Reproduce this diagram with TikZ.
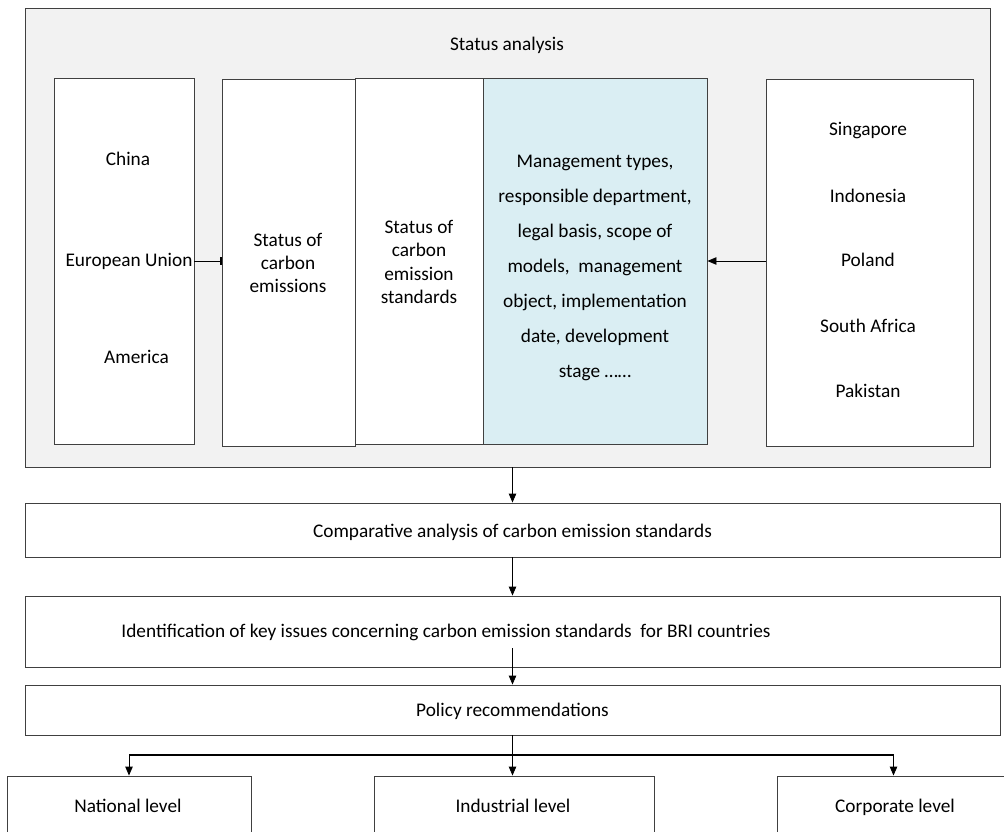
\documentclass[tikz,border=0pt]{standalone}
\usepackage{fontspec}
\setmainfont{Carlito}
\usetikzlibrary{arrows.meta,calc}
\definecolor{panelgray}{HTML}{F2F2F2}
\definecolor{lightblue}{HTML}{DAEEF3}
\definecolor{edge}{HTML}{404040}
\begin{document}
\begin{tikzpicture}[x=1pt,y=-1pt,
  box/.style={draw=edge,line width=0.9pt,fill=white,inner sep=0pt,rectangle},
  lbl/.style={inner sep=0pt,align=center,font=\fontsize{19.3}{23.3}\selectfont},
  one/.style={lbl,text height=14.5pt,text depth=3.5pt},
  arr/.style={draw=black,line width=0.9pt,-{Triangle[length=9pt,width=7.5pt]}},
  tick/.style={draw=black,line width=0.9pt,-{Bar[width=8pt,line width=1.4pt]}}]
\useasboundingbox (0,0) rectangle (1004,832);
\clip (0,0) rectangle (1004,832);
\fill[white] (0,0) rectangle (1004,832);
% panel
\node[box,fill=panelgray,minimum width=965,minimum height=459] (outer) at (507.5,237.5) {};
\node[one] (title) at (507,45) {Status analysis};
% inner boxes
\node[box,minimum width=140,minimum height=366] (left) at (124,261) {};
\node[box,minimum width=133,minimum height=367] (soce) at (288.5,262.5) {};
\node[box,minimum width=128,minimum height=366] (socs) at (419,261) {};
\node[box,fill=lightblue,minimum width=224,minimum height=366] (mgmt) at (595,261) {};
\node[box,minimum width=207,minimum height=367] (right) at (869.5,262.5) {};
% left texts
\node[one] (china) at (128,160) {China};
\node[one] (eu) at (129,261) {European Union};
\node[one] (america) at (136.5,358) {America};
% middle texts
\node[lbl] (soceT) at (288,263) {Status of\\carbon\\emissions};
\node[lbl] (socsT) at (419,262) {Status of\\carbon\\emission\\standards};
\node[lbl,font=\fontsize{19.3}{35}\selectfont] (mgmtT) at (595,268) {Management types,\\responsible department,\\legal basis, scope of\\models,\ \ management\\object, implementation\\date, development\\stage \ldots\ldots};
% right texts
\node[one] (sg) at (868,130) {Singapore};
\node[one] (id) at (868,197) {Indonesia};
\node[one] (pl) at (868,261) {Poland};
\node[one] (za) at (868,327) {South Africa};
\node[one] (pk) at (868,392) {Pakistan};
% side connectors
\draw[tick] (eu.center -| left.east) -- (eu.center -| soce.west);
\draw[arr] (pl.center -| right.west) -- (pl.center -| mgmt.east);
% lower boxes
\node[box,minimum width=975,minimum height=54] (comp) at (512.5,530) {};
\node[one] (compT) at (512.5,532) {Comparative analysis of carbon emission standards};
\node[box,minimum width=975,minimum height=71] (ident) at (512.5,631.5) {};
\node[one] (identT) at (446,632) {Identification of key issues concerning carbon emission standards\ \ for BRI countries};
\node[box,minimum width=975,minimum height=50] (policy) at (512.5,710) {};
\node[one] (policyT) at (512.5,711) {Policy recommendations};
\node[box,minimum width=244,minimum height=74] (national) at (129,813) {};
\node[box,minimum width=280,minimum height=74] (industrial) at (514,813) {};
\node[box,minimum width=233,minimum height=74] (corporate) at (893.5,813) {};
\node[one] (nationalT) at (128,807) {National level};
\node[one] (industrialT) at (513,807) {Industrial level};
\node[one] (corporateT) at (895,807) {Corporate level};
% vertical flow
\draw[arr] (outer.south -| comp.north) -- (comp.north);
\draw[arr] (comp.south) -- (ident.north);
\draw[arr] ($(ident.south)+(0,-19)$) -- (policy.north);
\coordinate (br) at (policy.south |- 0,755);
\draw[line width=0.9pt] (policy.south) -- (br);
\draw[line width=1.8pt] (br -| national.north) -- (br -| corporate.north);
\draw[arr] (br -| national.north) -- (national.north);
\draw[arr] (br) -- (br |- industrial.north);
\draw[arr] (br -| corporate.north) -- (corporate.north);
\end{tikzpicture}
\end{document}
